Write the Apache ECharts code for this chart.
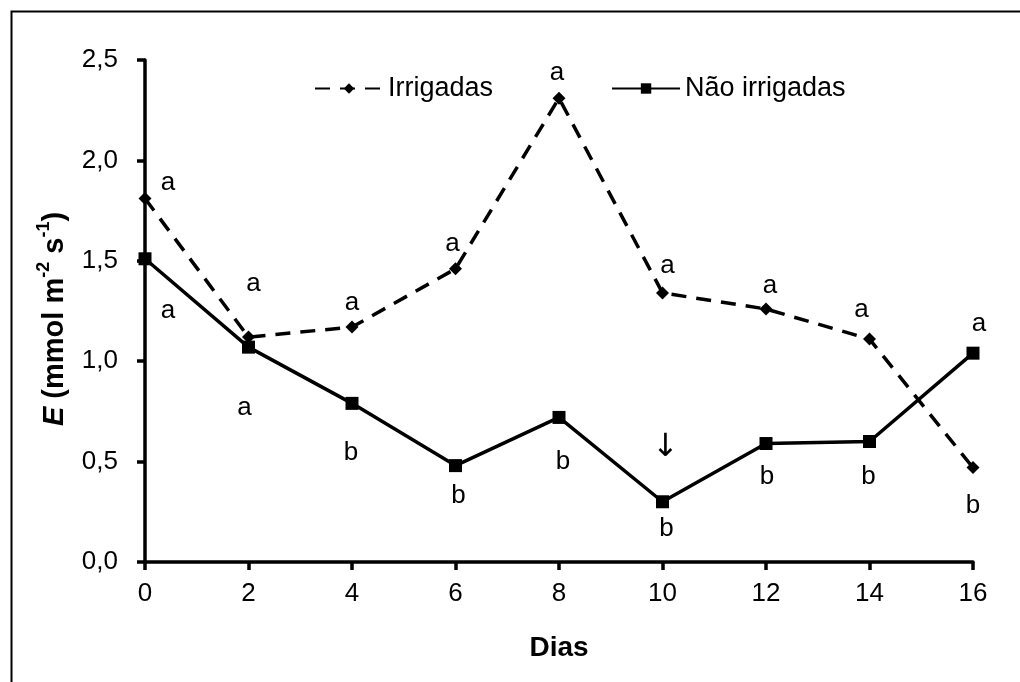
<!DOCTYPE html>
<html>
<head>
<meta charset="utf-8">
<script src="https://cdn.jsdelivr.net/npm/echarts@6/dist/echarts.min.js"></script>
<style>
html,body{margin:0;padding:0;background:#fff;}
#chart{width:1020px;height:682px;}
</style>
</head>
<body>
<div id="chart"></div>
<script>
// ---- data ----
const days = [0, 2, 4, 6, 8, 10, 12, 14, 16];
const irrigadas = [1.81, 1.12, 1.17, 1.46, 2.31, 1.34, 1.26, 1.11, 0.47];
const naoIrrigadas = [1.51, 1.07, 0.79, 0.48, 0.72, 0.30, 0.59, 0.60, 1.04];
const lettersIrr = ['a', 'a', 'a', 'a', 'a', 'a', 'a', 'a', 'b'];
const lettersNao = ['a', 'a', 'b', 'b', 'b', 'b', 'b', 'b', 'a'];
const yTicks = [0, 0.5, 1.0, 1.5, 2.0, 2.5];
const xTicks = [0, 2, 4, 6, 8, 10, 12, 14, 16];
const arrowDay = 10;

// ---- layout (label offsets in px, not data) ----
const offIrr = [[23,-16],[5,-53],[0,-24],[-3,-25],[-2,-25],[5,-27],[4,-23],[-8,-29],[0,38]];
const offNao = [[23,52],[-4,61],[-1,49],[3,30],[4,44],[4,27],[1,33],[-1,35],[6,-29]];

const font = 'Liberation Sans, Arial, sans-serif';
const labelStyle = {fontFamily: font, fontSize: 26, color: '#000'};

function buildData(vals, letters, offs) {
  return vals.map((v, i) => ({
    value: [days[i], v],
    label: Object.assign({show: true, position: 'inside', formatter: letters[i], offset: offs[i]}, labelStyle)
  }));
}

const chart = echarts.init(document.getElementById('chart'), null, {renderer: 'canvas'});
chart.setOption({
  backgroundColor: '#fff',
  animation: false,
  graphic: [{
    type: 'rect', left: 9, top: 9,
    shape: {width: 1040, height: 700},
    style: {fill: 'none', stroke: '#000', lineWidth: 2}
  }],
  legend: {
    top: 70, left: 309,
    itemGap: 118,
    itemWidth: 68, itemHeight: 13,
    textStyle: {fontFamily: font, fontSize: 27, color: '#000'},
    data: ['Irrigadas', 'Não irrigadas']
  },
  grid: {left: 145, right: 47, top: 60, bottom: 120, containLabel: false},
  xAxis: {
    type: 'value', min: 0, max: 16, interval: 2,
    name: 'Dias', nameLocation: 'middle', nameGap: 72,
    nameTextStyle: {fontFamily: font, fontSize: 28, fontWeight: 'bold', color: '#000'},
    axisLine: {show: true, onZero: false, lineStyle: {color: '#000', width: 3.5}},
    axisTick: {show: true, inside: false, length: 8, lineStyle: {color: '#000', width: 3.5}},
    axisLabel: {fontFamily: font, fontSize: 26, color: '#000', margin: 19,
      formatter: v => xTicks.includes(v) ? String(v) : ''},
    splitLine: {show: false}
  },
  yAxis: {
    type: 'value', min: 0, max: 2.5, interval: 0.5,
    name: '{e|E}{n| (mmol m}{s|-2}{n| s}{s|-1}{n|)}',
    nameLocation: 'middle', nameGap: 76, nameRotate: 90,
    nameTextStyle: {
      fontFamily: font, fontSize: 29, fontWeight: 'bold', color: '#000',
      padding: [0, 16, 0, 0],
      rich: {
        e: {fontFamily: font, fontSize: 29, fontWeight: 'bold', fontStyle: 'italic', color: '#000', verticalAlign: 'bottom', lineHeight: 34},
        n: {fontFamily: font, fontSize: 29, fontWeight: 'bold', color: '#000', verticalAlign: 'bottom', lineHeight: 34},
        s: {fontFamily: font, fontSize: 18, fontWeight: 'bold', color: '#000', verticalAlign: 'top', lineHeight: 19}
      }
    },
    axisLine: {show: true, lineStyle: {color: '#000', width: 3.5}},
    axisTick: {show: true, inside: false, length: 8, lineStyle: {color: '#000', width: 3.5}},
    axisLabel: {fontFamily: font, fontSize: 26, color: '#000', margin: 27,
      formatter: v => yTicks.some(t => Math.abs(t - v) < 1e-9) ? v.toFixed(1).replace('.', ',') : ''},
    splitLine: {show: false}
  },
  series: [
    {
      name: 'Irrigadas', type: 'line',
      data: buildData(irrigadas, lettersIrr, offIrr),
      symbol: 'diamond', symbolSize: 13,
      itemStyle: {color: '#000'},
      lineStyle: {color: '#000', width: 3.5, type: [15, 10]},
      z: 3
    },
    {
      name: 'Não irrigadas', type: 'line',
      data: buildData(naoIrrigadas, lettersNao, offNao),
      symbol: 'rect', symbolSize: 13,
      itemStyle: {color: '#000'},
      lineStyle: {color: '#000', width: 3.5},
      z: 4,
      markPoint: {
        symbol: 'circle', symbolSize: 0,
        data: [{coord: [arrowDay, naoIrrigadas[days.indexOf(arrowDay)]]}],
        label: {show: true, formatter: '\u2193', offset: [3, -54], fontFamily: 'DejaVu Sans, ' + font, fontSize: 32, color: '#000'}
      }
    }
  ]
});
</script>
</body>
</html>
